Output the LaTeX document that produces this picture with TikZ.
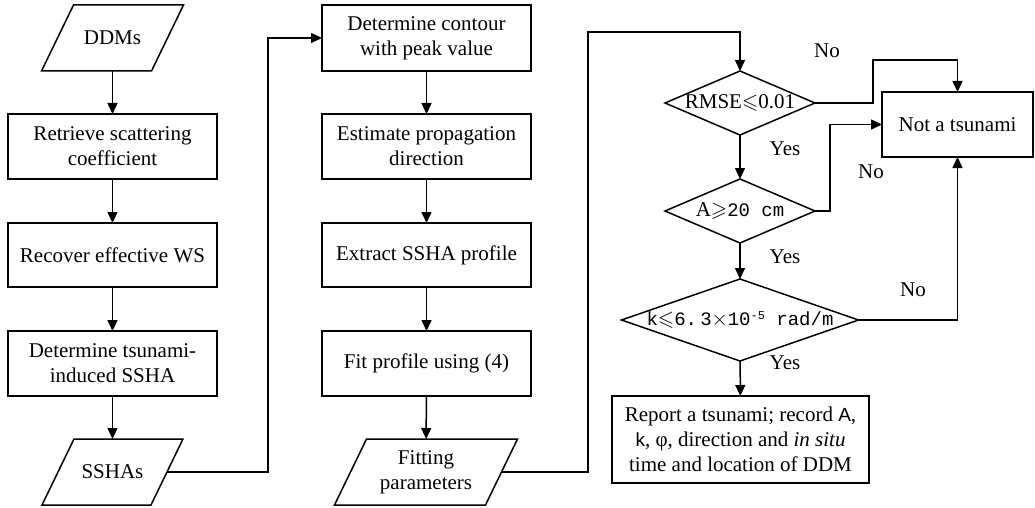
\documentclass[tikz,border=0pt]{standalone}
\usepackage{amssymb}
\usepackage{fontspec}
\setmainfont{Liberation Serif}
\newfontfamily\sansf{Liberation Sans}
\newfontfamily\monof{Liberation Mono}
\usetikzlibrary{shapes.geometric,arrows.meta}
\begin{document}
\begin{tikzpicture}[x=1pt,y=-1pt,
  line width=1.5pt,
  every node/.style={font=\fontsize{21}{25}\selectfont, line width=1.5pt, outer sep=0pt},
  box/.style={draw, rectangle, align=center, inner sep=0pt, minimum width=209, minimum height=65},
  % parallelogram body: mid-height width, outline drawn separately with slanted sides
  para/.style={rectangle, align=center, inner sep=0pt, minimum width=#1, minimum height=66},
  para/.default=110,
  dec/.style={draw, diamond, inner sep=0pt},
  lbl/.style={inner sep=0pt},
  arr/.style={-{Triangle[length=11pt,width=10pt]}}
]
\useasboundingbox (0,0) rectangle (1035,508);

% left column
\node[para] (ddm) at (112.5,38) {DDMs};
\node[box] (ret) at (112.5,146.5) {Retrieve scattering\\coefficient};
\node[box, minimum height=64] (rec) at (112.5,255) {Recover effective WS};
\node[box] (det) at (112.5,363.5) {Determine tsunami-\\induced SSHA};
\node[para=109] (ssha) at (112.5,472) {SSHAs};

% middle column
\node[box, minimum height=66] (con) at (426.5,38) {Determine contour\\with peak value};
\node[box] (est) at (426.5,146.5) {Estimate propagation\\direction};
\node[box, minimum height=64] (ext) at (426.5,255) {Extract SSHA profile};
\node[box] (fit) at (426.5,363.5) {Fit profile using (4)};
\node[para=151] (fp) at (426,472) {Fitting\\parameters};

% slanted outlines of the data nodes
\foreach \n in {ddm,ssha,fp}
  \draw ([xshift=-16pt]\n.south west) -- ([xshift=-16pt]\n.south east)
     -- ([xshift=16pt]\n.north east) -- ([xshift=16pt]\n.north west) -- cycle;

% decisions
\node[dec, minimum width=150, minimum height=64] (d1) at (740,103)
  {\makebox[0pt]{RMSE$\leqslant$0.01}};
\node[dec, minimum width=150, minimum height=64] (d2) at (740,211)
  {\makebox[0pt]{A$\geqslant${\monof\fontsize{19}{19}\selectfont 20\hspace{0.6em}cm}}};
\node[dec, minimum width=237, minimum height=82] (d3) at (740,320)
  {\makebox[0pt]{{\monof\fontsize{19}{19}\selectfont k}$\leqslant${\monof\fontsize{19}{19}\selectfont 6.\,3}$\times${\monof\fontsize{19}{19}\selectfont 10\raisebox{0.55ex}{\fontsize{12}{12}\selectfont -5} rad/m}}};

\node[box, minimum width=151, minimum height=65] (not) at (957.5,124.5) {Not a tsunami};
\node[box, minimum width=257, minimum height=87] (rep) at (740.5,439.5)
  {Report a tsunami; record {\sansf\fontsize{19}{25}\selectfont A},\\
   {\sansf\fontsize{19}{25}\selectfont k}, φ, direction and \textit{in situ}\\
   time and location of DDM};

% branch labels
\node[lbl] (no1) at (827,51) {No};
\node[lbl] (yes1) at (785,149) {Yes};
\node[lbl] (no2) at (871,172) {No};
\node[lbl] (yes2) at (785,257) {Yes};
\node[lbl] (no3) at (913,290) {No};
\node[lbl] (yes3) at (785,363) {Yes};

% vertical flow
\draw[arr] (ddm) -- (ret);
\draw[arr] (ret) -- (rec);
\draw[arr] (rec) -- (det);
\draw[arr] (det) -- (ssha);
\draw[arr] (con) -- (est);
\draw[arr] (est) -- (ext);
\draw[arr] (ext) -- (fit);
\draw[arr] (fit) -- (fp);
\draw[arr] (d1) -- (d2);
\draw[arr] (d2) -- (d3);
\draw[arr] (d3) -- (rep);

% column links
\draw[arr] (ssha.east) -- (268,472) |- (con.west);
\draw[arr] (fp.east) -- (588,472) -- (588,32) -| (d1.north);

% rejection branches
\draw[arr] (d1.east) -| (873,60) -| (not.north);
\draw[arr] (d2.east) -| (830,124.5) -- (not.west);
\draw[arr] (d3.east) -| (not.south);
\end{tikzpicture}
\end{document}
